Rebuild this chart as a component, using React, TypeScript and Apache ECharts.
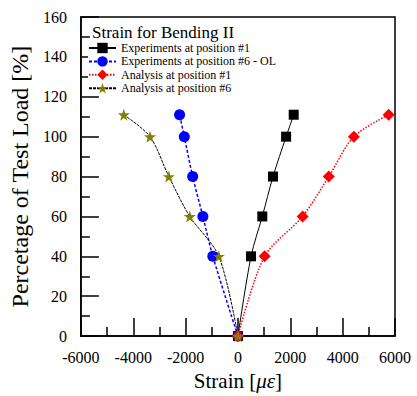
import React, { useEffect, useRef } from "react";
import * as echarts from "echarts";

const seriesNames = [
  "Experiments at position #1",
  "Experiments at position #6 - OL",
  "Analysis at position #1",
  "Analysis at position #6",
];

const expPos1: [number, number][] = [[0, 0], [500, 40], [930, 60], [1340, 80], [1840, 100], [2130, 111]];
const expPos6: [number, number][] = [[0, 0], [-960, 40], [-1340, 60], [-1730, 80], [-2050, 100], [-2230, 111]];
const anaPos1: [number, number][] = [[0, 0], [1020, 40], [2470, 60], [3470, 80], [4430, 100], [5760, 111]];
const anaPos6: [number, number][] = [[0, 0], [-730, 40], [-1840, 60], [-2640, 80], [-3360, 100], [-4360, 111]];

const FONT = "Liberation Serif";

export default function App() {
  const ref = useRef<HTMLDivElement>(null);
  useEffect(() => {
    if (!ref.current) return;
    const chart = echarts.init(ref.current, undefined, { renderer: "svg" });
    const tickStyle = { color: "#000", width: 1.5 };
    chart.setOption({
      animation: false,
      backgroundColor: "#fff",
      textStyle: { fontFamily: FONT, color: "#000" },
      title: {
        text: "Strain for Bending II",
        left: 92,
        top: 24,
        padding: 0,
        textStyle: { color: "#000", fontSize: 17, fontWeight: "normal", fontFamily: FONT },
      },
      legend: {
        orient: "vertical",
        left: 88,
        top: 42,
        padding: [0, 2, 0, 0],
        backgroundColor: "#fff",
        itemWidth: 27,
        itemHeight: 13,
        itemGap: 1.4,
        textStyle: { color: "#000", fontSize: 12, fontFamily: FONT },
        data: seriesNames,
      },
      grid: {
        left: 80,
        right: 22,
        top: 17,
        bottom: 56,
        show: true,
        borderColor: "#000",
        borderWidth: 1.5,
        backgroundColor: "transparent",
      },
      xAxis: {
        type: "value",
        min: -6000,
        max: 6000,
        interval: 2000,
        name: "{a|Strain [}{i|με}{a|]}",
        nameLocation: "middle",
        nameGap: 30,
        axisLine: { show: true, onZero: false, lineStyle: tickStyle },
        axisTick: { show: true, inside: true, length: 18, lineStyle: tickStyle },
        minorTick: { show: true, splitNumber: 2, length: 9, lineStyle: tickStyle },
        splitLine: { show: false },
        axisLabel: {
          margin: 13,
          color: "#000",
          fontSize: 16,
          fontFamily: FONT,
          formatter: (v: number) => String(v),
        },
        nameTextStyle: {
          color: "#000",
          fontFamily: FONT,
          fontSize: 21,
          rich: {
            a: { fontFamily: FONT, fontSize: 21, color: "#000" },
            i: { fontFamily: FONT, fontSize: 21, color: "#000", fontStyle: "italic" },
          },
        },
      },
      yAxis: {
        type: "value",
        min: 0,
        max: 160,
        interval: 20,
        name: "Percetage of Test Load [%]",
        nameLocation: "middle",
        nameGap: 42,
        axisLine: { show: true, onZero: false, lineStyle: tickStyle },
        axisTick: { show: true, inside: true, length: 18, lineStyle: tickStyle },
        minorTick: { show: true, splitNumber: 2, length: 9, lineStyle: tickStyle },
        splitLine: { show: false },
        axisLabel: {
          margin: 14,
          color: "#000",
          fontSize: 16,
          fontFamily: FONT,
          formatter: (v: number) => String(v),
        },
        nameTextStyle: { color: "#000", fontFamily: FONT, fontSize: 24 },
      },
      series: [
        {
          name: seriesNames[0],
          type: "line",
          data: expPos1,
          smooth: 0.3,
          symbol: "rect",
          symbolSize: 10,
          itemStyle: { color: "#000" },
          lineStyle: { color: "#000", width: 1, type: "solid" },
        },
        {
          name: seriesNames[1],
          type: "line",
          data: expPos6,
          smooth: 0.3,
          symbol: "circle",
          symbolSize: 11,
          itemStyle: { color: "#0000ff" },
          lineStyle: { color: "#0000ff", width: 1.5, type: [3, 2] },
        },
        {
          name: seriesNames[2],
          type: "line",
          data: anaPos1,
          smooth: 0.3,
          symbol: "diamond",
          symbolSize: 12,
          itemStyle: { color: "#ff0000" },
          lineStyle: { color: "#ff0000", width: 1.5, type: [1.5, 1.5] },
        },
        {
          name: seriesNames[3],
          type: "line",
          data: anaPos6,
          smooth: 0.3,
          symbol: "path://M50,0 L61.8,35.4 L98,35.4 L68.9,57.3 L79.4,92 L50,71 L20.6,92 L31.1,57.3 L2,35.4 L38.2,35.4 Z",
          symbolSize: 12,
          itemStyle: { color: "#808000" },
          lineStyle: { color: "#000", width: 1, type: [3, 1] },
        },
      ],
    });
    return () => chart.dispose();
  }, []);
  return <div ref={ref} style={{ position: "absolute", left: 0, top: 0, width: 417, height: 396 }} />;
}
